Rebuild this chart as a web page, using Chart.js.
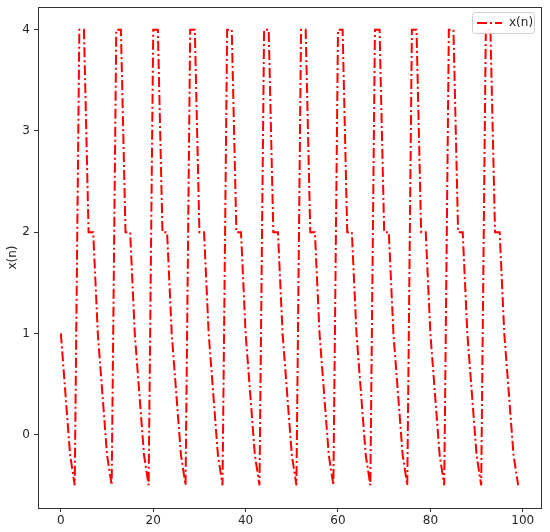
<!DOCTYPE html>
<html>
<head>
<meta charset="utf-8">
<script src="https://cdn.jsdelivr.net/npm/chart.js@4/dist/chart.umd.min.js"></script>
<style>
html,body{margin:0;padding:0;background:#fff;}
canvas{display:block;}
</style>
</head>
<body>
<canvas id="c" width="550" height="532"></canvas>
<script>
// Sample index n = 0..99
const nValues = Array.from({length: 100}, (_, i) => i);
// x(n) values
const xValues = [
  1, 0.4, -0.2, -0.5, 4, 4, 2, 2,
  1, 0.4, -0.2, -0.5, 4, 4, 2, 2,
  1, 0.4, -0.2, -0.5, 4, 4, 2, 2,
  1, 0.4, -0.2, -0.5, 4, 4, 2, 2,
  1, 0.4, -0.2, -0.5, 4, 4, 2, 2,
  1, 0.4, -0.2, -0.5, 4, 4, 2, 2,
  1, 0.4, -0.2, -0.5, 4, 4, 2, 2,
  1, 0.4, -0.2, -0.5, 4, 4, 2, 2,
  1, 0.4, -0.2, -0.5, 4, 4, 2, 2,
  1, 0.4, -0.2, -0.5, 4, 4, 2, 2,
  1, 0.4, -0.2, -0.5, 4, 4, 2, 2,
  1, 0.4, -0.2, -0.5, 4, 4, 2, 2,
  1, 0.4, -0.2, -0.5
];
const xTicks = [0, 20, 40, 60, 80, 100];
const yTicks = [0, 1, 2, 3, 4];
const seriesLabel = 'x(n)';
const yTitle = 'x(n)';

const FONT = 'DejaVu Sans';
const TXT = '#262626';
const DASH = [10, 3, 2, 3];

const frame = {
  id: 'frame',
  afterDraw(chart) {
    const {ctx, chartArea: a} = chart;
    ctx.save();
    ctx.strokeStyle = '#333';
    ctx.lineWidth = 1;
    ctx.strokeRect(Math.round(a.left) + 0.5, Math.round(a.top) + 0.5,
                   Math.round(a.right - a.left), Math.round(a.bottom - a.top));
    // legend
    const bx = 472.5, by = 12.5, bw = 62, bh = 21;
    ctx.fillStyle = 'rgba(255,255,255,0.85)';
    ctx.strokeStyle = '#d0d0d0';
    ctx.beginPath();
    if (ctx.roundRect) ctx.roundRect(bx, by, bw, bh, 3); else ctx.rect(bx, by, bw, bh);
    ctx.fill(); ctx.stroke();
    ctx.strokeStyle = '#ff0000';
    ctx.lineWidth = 2;
    ctx.setLineDash(DASH);
    ctx.beginPath();
    ctx.moveTo(477, by + bh / 2);
    ctx.lineTo(502, by + bh / 2);
    ctx.stroke();
    ctx.setLineDash([]);
    ctx.fillStyle = TXT;
    ctx.font = '12px "' + FONT + '"';
    ctx.textBaseline = 'middle';
    ctx.textAlign = 'left';
    ctx.fillText(seriesLabel, 509, by + bh / 2);
    ctx.restore();
  }
};

new Chart(document.getElementById('c'), {
  type: 'line',
  data: {
    datasets: [{
      label: seriesLabel,
      data: nValues.map((n, i) => ({x: n, y: xValues[i]})),
      borderColor: '#ff0000',
      borderWidth: 2,
      borderDash: DASH,
      pointRadius: 0,
      tension: 0,
      fill: false
    }]
  },
  options: {
    responsive: false,
    animation: false,
    devicePixelRatio: 1,
    layout: {padding: {top: 7, right: 9, left: 0, bottom: 0}},
    plugins: {legend: {display: false}, tooltip: {enabled: false}},
    scales: {
      x: {
        type: 'linear',
        min: -4.95, max: 103.95,
        afterBuildTicks(s) { s.ticks = xTicks.map(v => ({value: v})); },
        afterFit(s) { s.height = 24; s.paddingLeft = 0; s.paddingRight = 0; },
        grid: {display: true, drawOnChartArea: false, drawTicks: true, tickLength: 4, color: '#333'},
        border: {display: false},
        ticks: {font: {family: FONT, size: 12}, color: TXT, padding: 2, maxRotation: 0}
      },
      y: {
        type: 'linear',
        min: -0.725, max: 4.225,
        afterBuildTicks(s) { s.ticks = yTicks.map(v => ({value: v})); },
        afterFit(s) { s.width = 38; s.paddingTop = 0; s.paddingBottom = 0; },
        grid: {display: true, drawOnChartArea: false, drawTicks: true, tickLength: 4, color: '#333'},
        border: {display: false},
        ticks: {font: {family: FONT, size: 12}, color: TXT, padding: 4},
        title: {display: true, text: yTitle, font: {family: FONT, size: 12}, color: TXT, padding: {top: 6, bottom: 0}}
      }
    }
  },
  plugins: [frame]
});
</script>
</body>
</html>
